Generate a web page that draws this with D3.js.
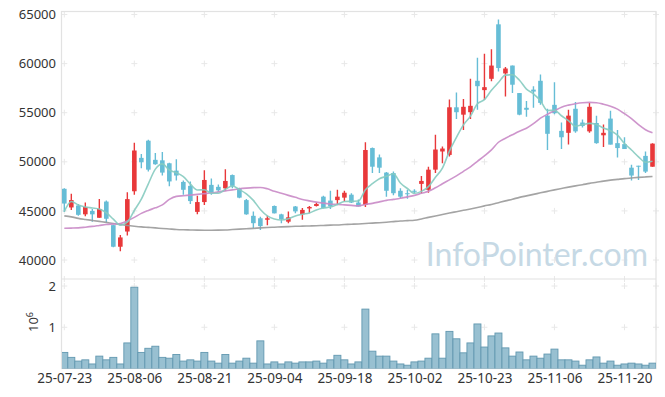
<!DOCTYPE html>
<html>
<head>
<meta charset="utf-8">
<script src="https://cdn.jsdelivr.net/npm/d3@7"></script>
<style>
body { margin: 0; background: #fff; }
svg { display: block; font-family: "Noto Sans", sans-serif; }
</style>
</head>
<body>
<div id="chart"></div>
<script>
// x tick labels, one every 10 trading days
const tickIndex = [0, 10, 20, 30, 40, 50, 60, 70, 80];
const tickLabels = ["25-07-23", "25-08-06", "25-08-21", "25-09-04", "25-09-18",
    "25-10-02", "25-10-23", "25-11-06", "25-11-20"];

const opens = [47250, 45350, 45550, 44650, 45000, 44300, 45950, 43550, 41350, 42900,
    47000, 50400, 52150, 50200, 50150, 49850, 49100, 47950, 47550, 44900,
    45900, 47650, 47450, 47300, 48650, 47300, 46100, 44500, 44250, 44100,
    45500, 44650, 43900, 45450, 44650, 45250, 45500, 46450, 46050, 46100,
    46350, 46650, 45850, 45600, 51400, 50450, 48900, 48850, 47050, 46800,
    47050, 47750, 47150, 49200, 51050, 50700, 55550, 54800, 55050, 58250,
    57300, 58450, 64000, 59000, 59800, 57000, 55500, 57350, 58250, 54700,
    55800, 53150, 52950, 55400, 54000, 53100, 53950, 52700, 54400, 51900,
    51800, 49400, 49600, 50600, 49500];
const highs = [47300, 46750, 45700, 45850, 45200, 46200, 46050, 43600, 42550, 46900,
    51950, 50800, 52250, 50900, 51000, 49900, 50250, 48100, 48000, 46550,
    49150, 48300, 47700, 49250, 48700, 47350, 46200, 44950, 44400, 44500,
    45550, 44700, 44950, 45500, 45300, 45500, 45850, 46550, 47050, 47150,
    47050, 46800, 46150, 52000, 51450, 50750, 48950, 49000, 47300, 47150,
    47200, 48550, 49500, 52750, 51550, 56350, 57050, 56400, 58450, 60600,
    61000, 61450, 64500, 59650, 59800, 57000, 56200, 57700, 58900, 55400,
    58100, 54000, 55300, 56100, 54300, 56000, 54700, 53800, 55200, 53250,
    52500, 49700, 49600, 51050, 51900];
const lows = [44900, 45100, 44500, 44450, 43900, 44300, 43800, 41300, 40900, 42500,
    46650, 49350, 49000, 49700, 48600, 47500, 48100, 46650, 45700, 44650,
    45600, 46650, 46950, 47050, 47300, 46300, 44600, 43250, 43050, 43550,
    44750, 43750, 43750, 44750, 44100, 44750, 45450, 45250, 45200, 45600,
    45950, 45800, 45450, 45400, 48850, 48850, 46450, 46600, 46300, 46250,
    46800, 46800, 46850, 48850, 49850, 50550, 54350, 53250, 54350, 55300,
    56300, 58200, 59200, 56650, 57000, 54750, 54600, 55500, 55800, 51200,
    54850, 51300, 51750, 52950, 53500, 52950, 51850, 51500, 51750, 50450,
    51300, 48100, 48150, 48850, 49500];
const closes = [45750, 46100, 44600, 45400, 44650, 45200, 44200, 41350, 42300, 46200,
    51150, 49950, 49200, 49750, 48900, 48000, 48600, 47150, 46000, 45900,
    48150, 46800, 47100, 48050, 47550, 46350, 44650, 43750, 43450, 44250,
    44750, 44150, 44350, 44950, 45100, 45400, 45700, 45300, 45450, 46450,
    46850, 45850, 45450, 51200, 49500, 49400, 47050, 46800, 46450, 46700,
    46950, 48050, 49200, 51250, 51350, 55550, 55050, 55600, 55700, 57700,
    57600, 59800, 59550, 59500, 57850, 54800, 55300, 57150, 56000, 52850,
    54950, 52500, 54700, 53100, 53650, 55600, 51900, 52950, 51750, 51400,
    51300, 48600, 49500, 49000, 51850];
const volumes = [390000, 270000, 180000, 210000, 110000, 300000, 210000, 270000, 110000, 620000,
    1970000, 390000, 490000, 540000, 270000, 250000, 340000, 180000, 210000, 180000,
    390000, 180000, 130000, 340000, 130000, 180000, 250000, 130000, 670000, 110000,
    160000, 110000, 160000, 130000, 160000, 160000, 180000, 130000, 210000, 320000,
    210000, 110000, 160000, 1440000, 420000, 300000, 300000, 180000, 110000, 80000,
    160000, 180000, 250000, 840000, 250000, 900000, 720000, 380000, 620000, 1080000,
    520000, 790000, 860000, 500000, 300000, 400000, 210000, 300000, 250000, 350000,
    470000, 210000, 210000, 180000, 80000, 210000, 280000, 130000, 180000, 80000,
    110000, 130000, 110000, 80000, 130000];

// 5-day line: first four points, rest averaged from closes
const ma5Head = [44930, 45950, 45600, 45400];
const ma20 = [43240, 43250, 43270, 43340, 43420, 43520, 43620, 43670, 43720, 43980,
    44340, 44750, 45050, 45310, 45610, 46170, 46480, 46550, 46610, 46680,
    46760, 46840, 46940, 47040, 47140, 47250, 47320, 47370, 47390, 47250,
    46990, 46790, 46580, 46380, 46170, 46020, 45890, 45790, 45710, 45660,
    45610, 45560, 45510, 45660, 45770, 45920, 46070, 46170, 46280, 46430,
    46580, 46790, 46990, 47350, 47760, 48160, 48570, 49030, 49490, 50050,
    50610, 51220, 51990, 52400, 52760, 53110, 53420, 53880, 54440, 54850,
    55200, 55560, 55770, 55920, 56020, 56050, 56020, 55870, 55660, 55360,
    54900, 54390, 53780, 53270, 52960];
const ma60 = [44490, 44390, 44240, 44130, 44030, 43930, 43830, 43720, 43620, 43520,
    43440, 43370, 43320, 43270, 43210, 43160, 43110, 43080, 43060, 43040,
    43030, 43030, 43040, 43060, 43100, 43140, 43180, 43220, 43270, 43310,
    43340, 43370, 43400, 43430, 43450, 43470, 43490, 43520, 43550, 43570,
    43610, 43640, 43670, 43710, 43760, 43800, 43850, 43910, 43970, 44010,
    44050, 44180, 44340, 44490, 44630, 44780, 44920, 45060, 45200, 45350,
    45510, 45660, 45840, 46020, 46190, 46380, 46530, 46680, 46840, 46990,
    47140, 47280, 47420, 47550, 47670, 47800, 47910, 48030, 48130, 48210,
    48290, 48350, 48410, 48460, 48510];

const priceTicks = [40000, 45000, 50000, 55000, 60000, 65000];
const volTicks = [1000000, 2000000];

const width = 665, height = 397;
const plotLeft = 62, plotRight = 656, plotTop = 11.5, split = 279, plotBottom = 368.5;

const ma5 = closes.map((c, i) => i < 4 ? ma5Head[i] : d3.mean(closes.slice(i - 4, i + 1)));

const x = d3.scaleLinear().domain([-0.33, 84.5]).range([plotLeft, plotRight]);
const y = d3.scaleLinear().domain([40000, 65000]).range([260, 14.5]);
const yv = d3.scaleLinear().domain([0, 2000000]).range([plotBottom, 286]);

const svg = d3.select("#chart").append("svg")
    .attr("width", width)
    .attr("height", height);

svg.append("clipPath").attr("id", "clipPrice")
    .append("rect").attr("x", plotLeft).attr("y", plotTop)
    .attr("width", plotRight - plotLeft).attr("height", split - plotTop);
svg.append("clipPath").attr("id", "clipVol")
    .append("rect").attr("x", plotLeft).attr("y", split)
    .attr("width", plotRight - plotLeft).attr("height", plotBottom - split);

// faint "+" marks at grid crossings
const plus = (px, py) => `M${px - 3},${py}h6M${px},${py - 3}v6`;
const grid = svg.append("g").attr("stroke", "#e8e8e8").attr("stroke-width", 1).attr("fill", "none");
tickIndex.forEach(t => {
    priceTicks.forEach(p => grid.append("path").attr("d", plus(x(t), y(p))));
    volTicks.forEach(v => grid.append("path").attr("d", plus(x(t), yv(v))));
    grid.append("path").attr("d", `M${x(t)},${split - 3}v6`);
});
priceTicks.forEach(p => grid.append("path").attr("d", plus(plotRight, y(p))));
volTicks.forEach(v => grid.append("path").attr("d", plus(plotRight, yv(v))));

// frame
svg.append("rect")
    .attr("x", plotLeft - 0.5).attr("y", plotTop)
    .attr("width", plotRight - plotLeft + 0.5).attr("height", plotBottom - plotTop)
    .attr("fill", "none").attr("stroke", "#e2e2e2").attr("stroke-width", 1.2);
svg.append("line")
    .attr("x1", plotLeft).attr("x2", plotRight).attr("y1", split).attr("y2", split)
    .attr("stroke", "#e2e2e2").attr("stroke-width", 1.2);

// watermark
svg.append("text")
    .attr("x", 648).attr("y", 266)
    .attr("text-anchor", "end")
    .attr("font-family", "Lato")
    .attr("font-size", 32)
    .attr("fill", "#c6d9e5")
    .text("InfoPointer.com");

const idx = d3.range(closes.length);
const up = i => closes[i] >= opens[i];
const red = "#e8383a", blue = "#66bdd6";

const price = svg.append("g").attr("clip-path", "url(#clipPrice)");

price.selectAll("line.wick")
    .data(idx)
    .enter().append("line")
    .attr("class", "wick")
    .attr("x1", i => x(i)).attr("x2", i => x(i))
    .attr("y1", i => y(highs[i])).attr("y2", i => y(lows[i]))
    .attr("stroke", i => up(i) ? red : blue)
    .attr("stroke-width", 1.4);

price.selectAll("rect.body")
    .data(idx)
    .enter().append("rect")
    .attr("class", "body")
    .attr("x", i => x(i) - 2.3)
    .attr("width", 4.6)
    .attr("y", i => y(Math.max(opens[i], closes[i])))
    .attr("height", i => Math.max(1, Math.abs(y(opens[i]) - y(closes[i]))))
    .attr("fill", i => up(i) ? red : blue);

const lineFor = arr => d3.line()
    .x((d, i) => x(i))
    .y(d => y(d))
    .curve(d3.curveMonotoneX)(arr);

[[ma60, "#9a9a9a"], [ma20, "#c98ac6"], [ma5, "#86cbc0"]].forEach(([arr, col]) => {
    price.append("path")
        .attr("d", lineFor(arr))
        .attr("fill", "none")
        .attr("stroke", col)
        .attr("stroke-width", 1.6)
        .attr("stroke-opacity", 0.9);
});

// volume
svg.append("g").attr("clip-path", "url(#clipVol)")
    .selectAll("rect")
    .data(idx)
    .enter().append("rect")
    .attr("x", i => x(i) - 3.5)
    .attr("width", 7)
    .attr("y", i => yv(volumes[i]))
    .attr("height", i => plotBottom - yv(volumes[i]))
    .attr("fill", "#98c0d1")
    .attr("stroke", "#6298b0")
    .attr("stroke-width", 0.9);

// axes
const styleAxis = g => {
    g.select(".domain").remove();
    g.selectAll("text").attr("fill", "#333").attr("font-size", 13).attr("font-family", "Noto Sans");
};

svg.append("g")
    .attr("transform", `translate(${plotLeft},0)`)
    .call(d3.axisLeft(y).tickValues(priceTicks).tickFormat(d3.format("d")).tickSize(0).tickPadding(6))
    .call(styleAxis);

svg.append("g")
    .attr("transform", `translate(${plotLeft},0)`)
    .call(d3.axisLeft(yv).tickValues(volTicks).tickFormat(d => d / 1e6).tickSize(0).tickPadding(6))
    .call(styleAxis);

svg.append("g")
    .attr("transform", `translate(0,${plotBottom})`)
    .call(d3.axisBottom(x).tickValues(tickIndex).tickFormat((d, i) => tickLabels[i]).tickSize(0).tickPadding(5))
    .call(styleAxis)
    .selectAll("text").attr("font-size", 13.5);

const unit = svg.append("text")
    .attr("transform", "translate(38,322) rotate(-90)")
    .attr("text-anchor", "middle")
    .attr("fill", "#333")
    .attr("font-size", 13);
unit.append("tspan").text("10");
unit.append("tspan").attr("dy", -5).attr("font-size", 9).text("6");
</script>
</body>
</html>
